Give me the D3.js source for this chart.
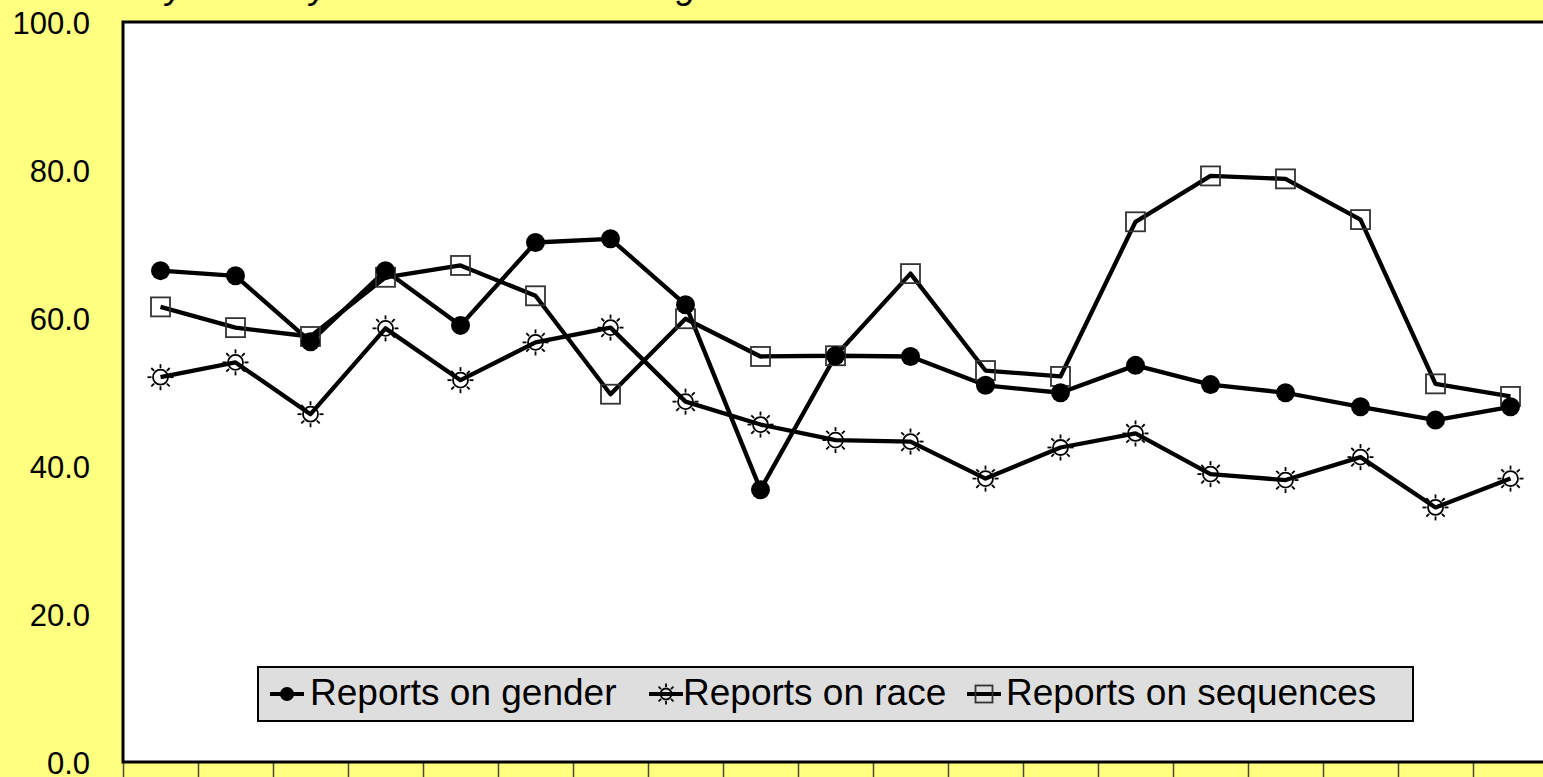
<!DOCTYPE html>
<html>
<head>
<meta charset="utf-8">
<script src="https://cdn.jsdelivr.net/npm/d3@7"></script>
<style>
  body { margin: 0; background: #ffff80; overflow: hidden; }
  svg { display: block; font-family: "Liberation Sans", Arial, sans-serif; }
</style>
</head>
<body>
<div class="chart"></div>
<script>
// periods along the x axis (labels fall below the visible area)
var periods = ["1","2","3","4","5","6","7","8","9","10","11","12","13","14","15","16","17","18","19"];

var gender    = [66.4, 65.7, 56.8, 66.4, 59.0, 70.2, 70.7, 61.8, 36.8, 54.9, 54.8, 50.9, 49.9, 53.6, 51.0, 49.9, 48.0, 46.2, 48.0];
var race      = [52.0, 54.0, 47.0, 58.6, 51.6, 56.7, 58.7, 48.7, 45.6, 43.5, 43.3, 38.3, 42.5, 44.4, 38.9, 38.1, 41.2, 34.4, 38.3];
var sequences = [61.5, 58.7, 57.5, 65.5, 67.1, 63.0, 49.7, 59.9, 54.8, 54.9, 66.0, 52.9, 52.1, 73.0, 79.2, 78.8, 73.3, 51.1, 49.4];

var yTicks = [0, 20, 40, 60, 80, 100];
var seriesNames = ["Reports on gender", "Reports on race", "Reports on sequences"];
var title = "Key items by the extent of recording";

function wrapper(){

var w = 1543, h = 777;
var mLeft = 123, mRight = 1548, mTop = 22, mBottom = 762;

var svg = d3.select("div.chart")
            .append("svg")
            .attr("width", w)
            .attr("height", h);

svg.append("rect").attr("width", w).attr("height", h).attr("fill", "#ffff80");

// cut off title, only the descenders show
svg.append("text")
   .attr("x", 122)
   .attr("y", -2)
   .attr("font-size", 36)
   .attr("font-style", "italic")
   .text(title);

var x = d3.scaleBand().domain(periods).range([mLeft, mRight]);
var y = d3.scaleLinear().domain([0, 100]).range([mBottom, mTop]);
var cx = function(i) { return x(periods[i]) + x.bandwidth() / 2; };

// plot area
svg.append("rect")
   .attr("x", mLeft).attr("y", mTop)
   .attr("width", mRight - mLeft).attr("height", mBottom - mTop)
   .attr("fill", "white");

// tick marks under the x axis at category boundaries
var bounds = periods.map(function(p) { return x(p); }).concat([x.range()[1]]);
svg.selectAll(".xtick")
   .data(bounds)
   .enter()
   .append("line")
   .attr("x1", function(d) { return d + 0.5; })
   .attr("x2", function(d) { return d + 0.5; })
   .attr("y1", mBottom)
   .attr("y2", h + 5)
   .attr("stroke", "#4a4a30")
   .attr("stroke-width", 1.5);

// y axis labels
var yAxis = d3.axisLeft(y).tickValues(yTicks).tickSize(0).tickPadding(33).tickFormat(d3.format(".1f"));
var ya = svg.append("g").attr("transform", "translate(" + mLeft + ",0)").call(yAxis);
ya.select(".domain").remove();
ya.selectAll("text")
  .attr("font-size", 31)
  .attr("font-family", "Liberation Sans, Arial, sans-serif")
  .attr("fill", "black")
  .attr("dy", "0.36em");

// plot border
svg.append("rect")
   .attr("x", mLeft).attr("y", mTop)
   .attr("width", mRight - mLeft).attr("height", mBottom - mTop)
   .attr("fill", "none")
   .attr("stroke", "black")
   .attr("stroke-width", 3);

var line = d3.line()
    .x(function(d, i) { return cx(i); })
    .y(function(d) { return y(d); });

[gender, race, sequences].forEach(function(s) {
  svg.append("path")
     .attr("d", line(s))
     .attr("fill", "none")
     .attr("stroke", "black")
     .attr("stroke-width", 4.3)
     .attr("stroke-linejoin", "round");
});

//marker drawers
function square(g, size) {
  g.append("rect")
   .attr("x", -size / 2).attr("y", -size / 2)
   .attr("width", size).attr("height", size)
   .attr("fill", "none")
   .attr("stroke", "#333")
   .attr("stroke-width", 1.8);
}
function sun(g, r, r1, r2) {
  g.append("circle").attr("r", r).attr("fill", "none").attr("stroke", "black").attr("stroke-width", 1.8);
  d3.range(8).forEach(function(k) {
    var a = k * Math.PI / 4;
    g.append("line")
     .attr("x1", r1 * Math.cos(a)).attr("y1", r1 * Math.sin(a))
     .attr("x2", r2 * Math.cos(a)).attr("y2", r2 * Math.sin(a))
     .attr("stroke", "black").attr("stroke-width", 1.8);
  });
}
function dot(g, r) {
  g.append("circle").attr("r", r).attr("fill", "black");
}

svg.selectAll(".seq")
   .data(sequences)
   .enter()
   .append("g")
   .attr("transform", function(d, i) { return "translate(" + cx(i) + "," + y(d) + ")"; })
   .each(function() { square(d3.select(this), 19); });

svg.selectAll(".race")
   .data(race)
   .enter()
   .append("g")
   .attr("transform", function(d, i) { return "translate(" + cx(i) + "," + y(d) + ")"; })
   .each(function() { sun(d3.select(this), 7.5, 9, 13); });

svg.selectAll(".gender")
   .data(gender)
   .enter()
   .append("g")
   .attr("transform", function(d, i) { return "translate(" + cx(i) + "," + y(d) + ")"; })
   .each(function() { dot(d3.select(this), 9.5); });

// legend
svg.append("rect")
   .attr("x", 258).attr("y", 667)
   .attr("width", 1155).attr("height", 54)
   .attr("fill", "#dedede")
   .attr("stroke", "black")
   .attr("stroke-width", 2);

var legendX = [287, 666, 984];
var legendTextX = [310, 683, 1006];
var legendDraw = [
  function(g) { dot(g, 7); },
  function(g) { sun(g, 5.5, 7, 10.5); },
  function(g) { square(g, 17); }
];
seriesNames.forEach(function(name, i) {
  var g = svg.append("g").attr("transform", "translate(" + legendX[i] + ",694)");
  g.append("line")
   .attr("x1", -17).attr("x2", 17)
   .attr("stroke", "black").attr("stroke-width", 4);
  legendDraw[i](g);
  svg.append("text")
     .attr("x", legendTextX[i])
     .attr("y", 705)
     .attr("font-size", 37)
     .text(name);
});

}
window.onload = wrapper;
</script>
</body>
</html>
